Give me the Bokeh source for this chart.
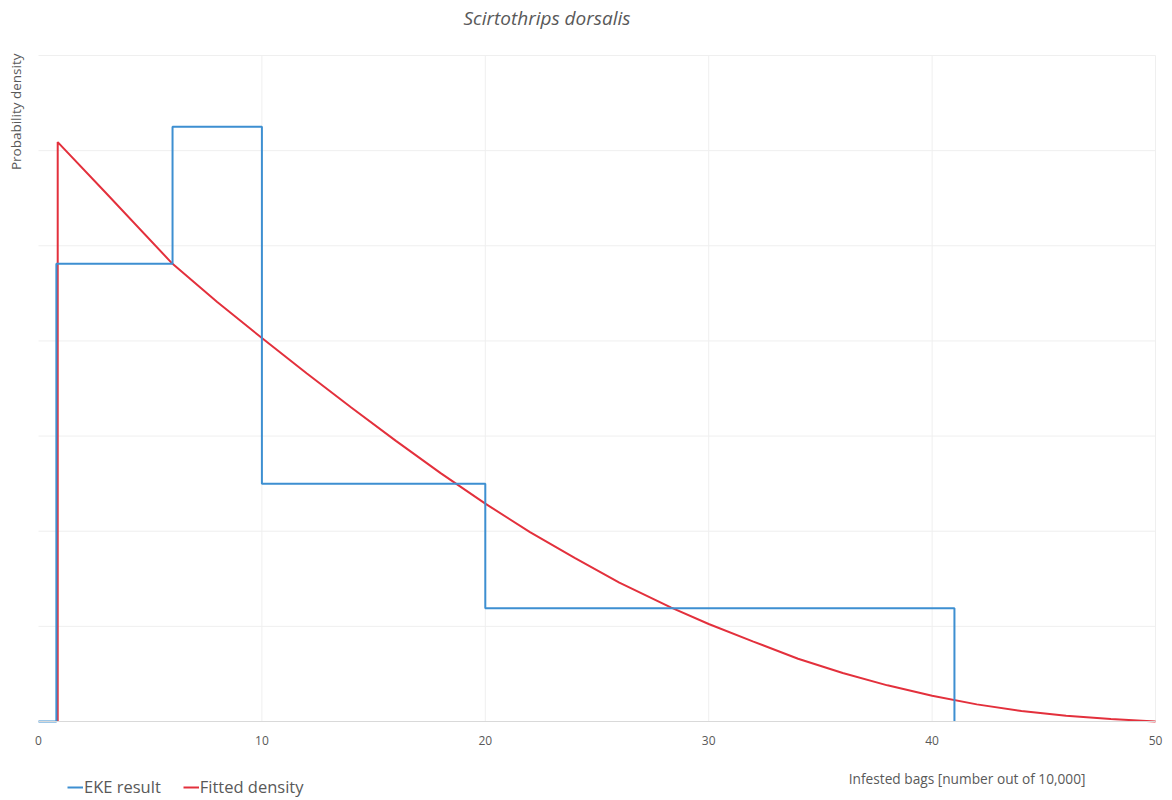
import math
from bokeh.plotting import figure
from bokeh.models import Range1d, Legend, LegendItem, FixedTicker, Label, LinearAxis
from bokeh.embed import file_html
from bokeh.resources import INLINE

# EKE result: bin edges and densities (gridline units)
eke_edges = [0.8, 6, 10, 20, 41]
eke_density = [4.81, 6.25, 2.50, 1.19]

# Fitted density curve
fit_x = [0.86, 0.86, 3, 6, 8, 10, 12, 14, 16, 18, 20, 22, 24, 26, 28.3,
         30, 32, 34, 36, 38, 40, 42, 44, 46, 48, 50]
fit_y = [0, 6.09, 5.56, 4.81, 4.41, 4.03, 3.66, 3.30, 2.95, 2.61, 2.29, 1.99, 1.72, 1.46, 1.20,
         1.025, 0.84, 0.66, 0.51, 0.38, 0.27, 0.18, 0.11, 0.06, 0.025, 0.0]

x_ticks = [0, 10, 20, 30, 40, 50]
y_grid = [1, 2, 3, 4, 5, 6, 7]

# build step path
step_x = [0, eke_edges[0]]
step_y = [0, 0]
for i, d in enumerate(eke_density):
    step_x += [eke_edges[i], eke_edges[i + 1]]
    step_y += [d, d]
step_x += [eke_edges[-1]]
step_y += [0]

FONT = "Open Sans"
GRAY = "#595959"

W, H = 1168, 798
# plot area in pixels (layout): x 0..50 -> 38..1155, y 0..7 -> 721..55
PX_L, PX_R, PX_T, PX_B = 38, 1155, 55, 721
xs = (PX_R - PX_L) / 50.0
ys = (PX_B - PX_T) / 7.0
x_lo, x_hi = -PX_L / xs, 50 + (W - PX_R) / xs
y_lo, y_hi = -(H - PX_B) / ys, 7 + PX_T / ys

p = figure(width=W, height=H, output_backend="svg", toolbar_location=None,
           x_range=Range1d(x_lo, x_hi), y_range=Range1d(y_lo, y_hi),
           x_axis_location=None, y_axis_location=None,
           min_border=0, min_border_left=0, min_border_right=0,
           min_border_top=0, min_border_bottom=0)
p.outline_line_color = None
p.background_fill_color = "white"
p.grid.visible = False

# light gridlines
p.segment(x0=[0] * len(y_grid), y0=y_grid, x1=[50] * len(y_grid), y1=y_grid,
          line_color="#efefef", line_width=1)
p.segment(x0=x_ticks[1:], y0=[0] * (len(x_ticks) - 1), x1=x_ticks[1:], y1=[7] * (len(x_ticks) - 1),
          line_color="#efefef", line_width=1)

xaxis = LinearAxis(fixed_location=0, bounds=(0, 50), ticker=FixedTicker(ticks=x_ticks))
xaxis.axis_line_color = "#d9d9d9"
xaxis.major_tick_line_color = None
xaxis.minor_tick_line_color = None
xaxis.major_label_text_font = FONT
xaxis.major_label_text_font_size = "12px"
xaxis.major_label_text_color = GRAY
xaxis.major_label_standoff = 8
p.add_layout(xaxis, "below")

r_fit = p.line(fit_x, fit_y, line_color="#e3303c", line_width=2)
r_eke = p.line(step_x, step_y, line_color="#3d8fd1", line_width=2)

# title
p.add_layout(Label(x=(463 - PX_L) / xs, y=7 + (PX_T - 17) / ys, text="Scirtothrips dorsalis",
                   text_align="left", text_baseline="middle", text_font=FONT,
                   text_font_style="italic", text_font_size="19px", text_color=GRAY))
# y label
p.add_layout(Label(x=(15 - PX_L) / xs, y=7 + (PX_T - 53) / ys, text="Probability density",
                   angle=math.pi / 2, text_align="right", text_baseline="middle",
                   text_font=FONT, text_font_size="13.5px", text_color=GRAY))
# x label
p.add_layout(Label(x=(1085 - PX_L) / xs, y=-(778 - PX_B) / ys,
                   text="Infested bags [number out of 10,000]",
                   text_align="right", text_baseline="middle", text_font=FONT,
                   text_font_size="13.7px", text_color=GRAY))

legend = Legend(items=[LegendItem(label="EKE result", renderers=[r_eke]),
                       LegendItem(label="Fitted density", renderers=[r_fit])],
                orientation="horizontal", location=(67, 0),
                background_fill_alpha=0, border_line_color=None,
                label_text_font=FONT, label_text_font_size="16.5px", label_text_color=GRAY,
                glyph_width=16, glyph_height=12, label_standoff=1, spacing=22, padding=0, margin=0)
p.add_layout(legend)

open("out.html", "w").write(file_html(p, INLINE))
